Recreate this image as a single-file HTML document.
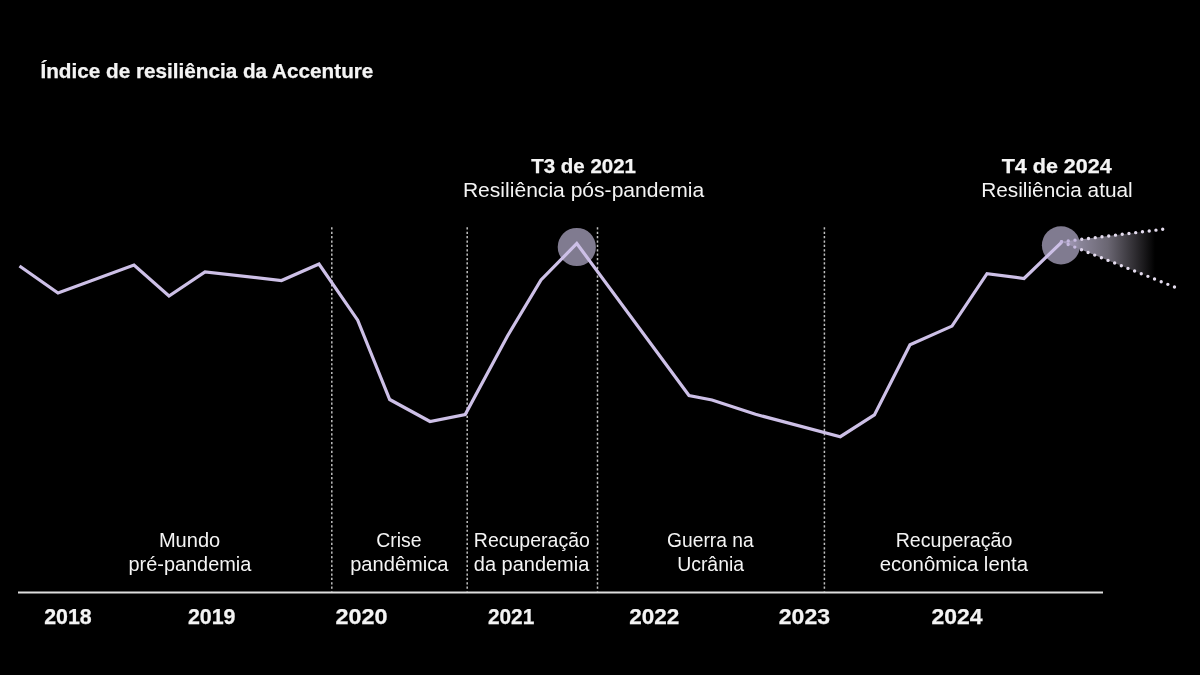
<!DOCTYPE html>
<html><head><meta charset="utf-8">
<style>
html,body{margin:0;padding:0;background:#000;width:1200px;height:675px;overflow:hidden}
svg{display:block;will-change:transform}
text{font-family:"Liberation Sans",sans-serif;fill:#f4f4f4}
.b{font-weight:bold;stroke:#f4f4f4;stroke-width:0.25}
</style></head><body>
<svg width="1200" height="675" viewBox="0 0 1200 675">
<defs>
<linearGradient id="cone" gradientUnits="userSpaceOnUse" x1="1061" y1="0" x2="1155" y2="0">
<stop offset="0" stop-color="#b0a4c8"/>
<stop offset="0.2" stop-color="#8a8599"/>
<stop offset="0.5" stop-color="#6a6672"/>
<stop offset="0.8" stop-color="#2c2a2e"/>
<stop offset="1" stop-color="#000"/>
</linearGradient>
<linearGradient id="dotg" gradientUnits="userSpaceOnUse" x1="1061" y1="0" x2="1090" y2="0">
<stop offset="0" stop-color="#c4b6e0"/>
<stop offset="0.6" stop-color="#c8bce0"/>
<stop offset="0.75" stop-color="#e4dcee"/>
<stop offset="1" stop-color="#e4dcee"/>
</linearGradient>
</defs>
<rect width="1200" height="675" fill="#000"/>

<g stroke="#c0c0c0" stroke-width="1.5" stroke-dasharray="2.2 2.182" fill="none">
<line x1="331.8" y1="227.3" x2="331.8" y2="591.5"/>
<line x1="467.2" y1="227.3" x2="467.2" y2="591.5"/>
<line x1="597.5" y1="227.3" x2="597.5" y2="591.5"/>
<line x1="824.4" y1="227.3" x2="824.4" y2="591.5"/>
</g>
<line x1="18" y1="592.5" x2="1103" y2="592.5" stroke="#dedede" stroke-width="2"/>

<circle cx="576.8" cy="247" r="19.1" fill="#807b90"/>
<circle cx="1061" cy="245.3" r="19.1" fill="#807b90"/>
<polygon points="1061.5,241.8 1162.7,229.3 1174,286.7" fill="url(#cone)"/>

<polyline fill="none" stroke="#cdc0e7" stroke-width="3.2" stroke-linejoin="miter" points="19.5,266 58,293 134,265 169,296 205,272 281.5,280.5 319,264 357.7,320.2 389.7,399.5 430,421.5 465.2,414.5 507.5,336 541,280 576.8,243.5 689,395.5 712,400 755.5,414.3 840.3,436.7 874.4,414.9 910,344.7 952,326.1 987,273.6 1024,278.5 1061.5,242.3"/>

<g stroke="url(#dotg)" stroke-width="3.4" stroke-linecap="round" fill="none">
<line x1="1061.5" y1="241.8" x2="1163.7" y2="229.18" stroke-dasharray="0 6.798"/>
<line x1="1061.5" y1="241.8" x2="1174.5" y2="287" stroke-dasharray="0 7.158"/>
</g>

<text class="b" x="40.45" y="78.00" font-size="19.3" textLength="332.95" lengthAdjust="spacingAndGlyphs">Índice de resiliência da Accenture</text>
<text class="b" x="531.20" y="173.00" font-size="19.3" textLength="104.80" lengthAdjust="spacingAndGlyphs">T3 de 2021</text>
<text x="462.90" y="196.50" font-size="19.3" textLength="241.30" lengthAdjust="spacingAndGlyphs">Resiliência pós-pandemia</text>
<text class="b" x="1001.70" y="173.00" font-size="19.3" textLength="110.05" lengthAdjust="spacingAndGlyphs">T4 de 2024</text>
<text x="981.20" y="196.50" font-size="19.3" textLength="151.55" lengthAdjust="spacingAndGlyphs">Resiliência atual</text>
<text x="158.90" y="547.00" font-size="19.3" textLength="61.40" lengthAdjust="spacingAndGlyphs">Mundo</text>
<text x="128.50" y="571.00" font-size="19.3" textLength="122.80" lengthAdjust="spacingAndGlyphs">pré-pandemia</text>
<text x="376.20" y="547.00" font-size="19.3" textLength="45.30" lengthAdjust="spacingAndGlyphs">Crise</text>
<text x="350.20" y="571.00" font-size="19.3" textLength="98.30" lengthAdjust="spacingAndGlyphs">pandêmica</text>
<text x="473.80" y="547.00" font-size="19.3" textLength="116.10" lengthAdjust="spacingAndGlyphs">Recuperação</text>
<text x="473.80" y="571.00" font-size="19.3" textLength="115.50" lengthAdjust="spacingAndGlyphs">da pandemia</text>
<text x="667.10" y="547.00" font-size="19.3" textLength="86.60" lengthAdjust="spacingAndGlyphs">Guerra na</text>
<text x="677.20" y="571.00" font-size="19.3" textLength="66.90" lengthAdjust="spacingAndGlyphs">Ucrânia</text>
<text x="895.70" y="547.00" font-size="19.3" textLength="116.70" lengthAdjust="spacingAndGlyphs">Recuperação</text>
<text x="879.80" y="571.00" font-size="19.3" textLength="148.20" lengthAdjust="spacingAndGlyphs">econômica lenta</text>
<text class="b" x="44.20" y="624.00" font-size="21.5" textLength="47.50" lengthAdjust="spacingAndGlyphs">2018</text>
<text class="b" x="187.90" y="624.00" font-size="21.5" textLength="47.60" lengthAdjust="spacingAndGlyphs">2019</text>
<text class="b" x="335.50" y="624.00" font-size="21.5" textLength="52.00" lengthAdjust="spacingAndGlyphs">2020</text>
<text class="b" x="487.90" y="624.00" font-size="21.5" textLength="46.40" lengthAdjust="spacingAndGlyphs">2021</text>
<text class="b" x="629.30" y="624.00" font-size="21.5" textLength="50.10" lengthAdjust="spacingAndGlyphs">2022</text>
<text class="b" x="778.80" y="624.00" font-size="21.5" textLength="51.20" lengthAdjust="spacingAndGlyphs">2023</text>
<text class="b" x="931.40" y="624.00" font-size="21.5" textLength="51.00" lengthAdjust="spacingAndGlyphs">2024</text>
</svg>
</body></html>
